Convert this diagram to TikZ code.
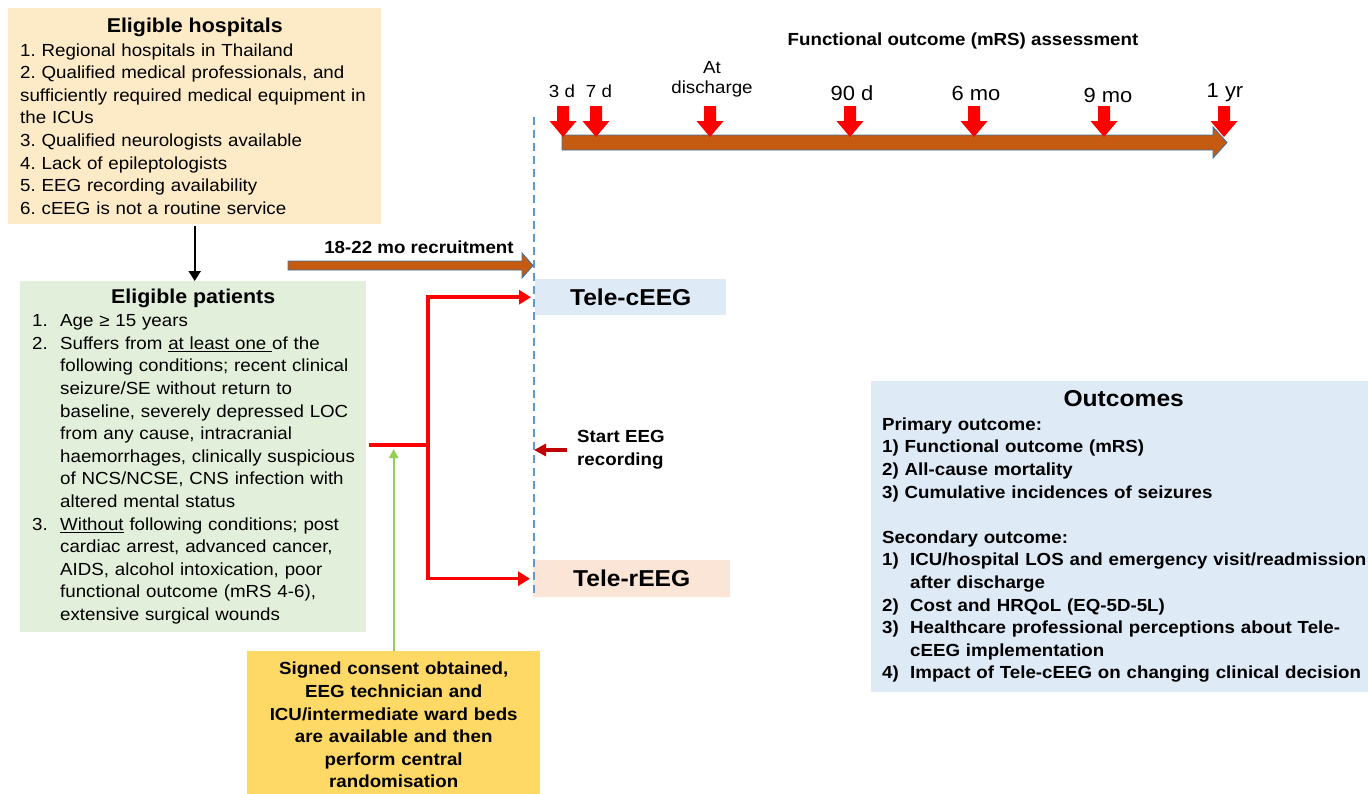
\documentclass[tikz,border=0pt]{standalone}
\usepackage{fontspec}
\setmainfont{Liberation Sans}[FakeStretch=1.07]
\usetikzlibrary{arrows.meta}

\definecolor{hospfill}{HTML}{FDEBC7}
\definecolor{patfill}{HTML}{E2EFDA}
\definecolor{consentfill}{HTML}{FFD966}
\definecolor{bluefill}{HTML}{DEEBF7}
\definecolor{peachfill}{HTML}{FBE5D6}
\definecolor{arrowbrown}{HTML}{C55A11}
\definecolor{arrowedge}{HTML}{41719C}
\definecolor{darkred}{HTML}{C00000}
\definecolor{lightgreen}{HTML}{92D050}
\definecolor{dashblue}{HTML}{5B9BD5}

\frenchspacing
\newcommand{\bodyfont}{\fontsize{17.5}{22.6}\selectfont}
\newcommand{\titlefont}{\fontsize{20}{24}\selectfont\bfseries}
\newcommand{\telefont}{\fontsize{23}{27}\selectfont\bfseries}
\newcommand{\itemno}[1]{\makebox[28pt][l]{#1}}
% keep the given line breaks, never wrap
\newcommand{\nowrap}{\rightskip=0pt plus 1fil minus 60pt\hyphenpenalty=10000\relax}

\begin{document}
\begin{tikzpicture}[x=1pt, y=-1pt,
box/.style={inner xsep=12pt, inner ysep=0pt, anchor=north west, align=left, font=\bodyfont},
telebox/.style={inner sep=0pt, anchor=north west, align=center, font=\telefont},
tlab/.style={inner sep=0pt, anchor=base, font=\fontsize{17.5}{21}\selectfont},
tbig/.style={inner sep=0pt, anchor=base, font=\fontsize{20.5}{24}\selectfont},
brownarrow/.style={fill=arrowbrown, draw=arrowedge, line width=0.9pt},
redline/.style={draw=red, line width=3.5pt, line join=miter, -{Triangle[length=12pt, width=14pt]}},
]

\useasboundingbox (0,0) rectangle (1368,793);

\pgfmathsetmacro{\ytop}{106}  % top of red markers
\pgfmathsetmacro{\yhead}{121}
\pgfmathsetmacro{\ytip}{137}

% MAIN BOXES
\node[box, fill=hospfill, minimum width=373, minimum height=216, text width=349] (hosp) at (8,8)
{\nowrap\makebox[\linewidth]{\titlefont Eligible hospitals}\\[1pt]
1. Regional hospitals in Thailand\\
2. Qualified medical professionals, and\\
sufficiently required medical equipment in\\
the ICUs\\
3. Qualified neurologists available\\
4. Lack of epileptologists\\
5. EEG recording availability\\
6. cEEG is not a routine service};

\node[box, fill=patfill, minimum width=346, minimum height=351, text width=322] (patients) at (20,281)
{\nowrap\makebox[\linewidth]{\titlefont Eligible patients}\\[0.5pt]
\itemno{1.}Age ≥ 15 years\\
\itemno{2.}Suffers from \underline{at least one }of the\\
\hspace*{28pt}following conditions; recent clinical\\
\hspace*{28pt}seizure/SE without return to\\
\hspace*{28pt}baseline, severely depressed LOC\\
\hspace*{28pt}from any cause, intracranial\\
\hspace*{28pt}haemorrhages, clinically suspicious\\
\hspace*{28pt}of NCS/NCSE, CNS infection with\\
\hspace*{28pt}altered mental status\\
\itemno{3.}\underline{Without} following conditions; post\\
\hspace*{28pt}cardiac arrest, advanced cancer,\\
\hspace*{28pt}AIDS, alcohol intoxication, poor\\
\hspace*{28pt}functional outcome (mRS 4-6),\\
\hspace*{28pt}extensive surgical wounds};

\node[box, fill=consentfill, align=center, font=\bodyfont\bfseries, minimum width=293, minimum height=148, text width=269] (consent) at (247,651)
{Signed consent obtained,\\
EEG technician and\\
ICU/intermediate ward beds\\
are available and then\\
perform central\\
randomisation};

\node[box, inner xsep=11pt, fill=bluefill, font=\bodyfont\bfseries, minimum width=497, minimum height=311, text width=475] (outcomes) at (871,381)
{\nowrap\makebox[\linewidth]{\hspace{8pt}\fontsize{23}{27}\selectfont Outcomes}\\[1pt]
Primary outcome:\\
1) Functional outcome (mRS)\\
2) All-cause mortality\\
3) Cumulative incidences of seizures\\[22.6pt]
Secondary outcome:\\
\itemno{1)}ICU/hospital LOS and emergency visit/readmission\\
\hspace*{28pt}after discharge\\
\itemno{2)}Cost and HRQoL (EQ-5D-5L)\\
\itemno{3)}Healthcare professional perceptions about Tele-\\
\hspace*{28pt}cEEG implementation\\
\mbox{\itemno{4)}Impact of Tele-cEEG on changing clinical decision}};

% ARMS
\node[telebox, fill=bluefill, minimum width=191, minimum height=36] (ceeg) at (535,279) {Tele-cEEG};
\node[telebox, fill=peachfill, minimum width=197, minimum height=37] (reeg) at (533,560) {Tele-rEEG};

% randomisation line
\coordinate (dtop) at (534,117);
\coordinate (dbot) at (534,598);
\draw[dashblue, line width=1.6pt, dash pattern=on 8pt off 5pt] (dtop) -- (dbot);

\node[inner sep=0pt, anchor=west, align=left, font=\bodyfont\bfseries] (start) at (577,450) {Start EEG\\recording};
\draw[darkred, line width=3.2pt, -{Triangle[length=12pt, width=12pt]}] ([xshift=-10pt]start.west) -- (start.west -| dtop);

% recruitment
\node[inner sep=0pt, anchor=base, font=\bodyfont\bfseries] (recruit) at (419,253) {18-22 mo recruitment};
\draw[brownarrow] (288,261) -- (522,261) -- (522,253) -- (533,265.5) -- (522,278) -- (522,270) -- (288,270) -- cycle;

% split to the arms
\coordinate (split) at (428,445);
\draw[red, line width=3.5pt] ([xshift=3pt]patients.east |- split) -- (split);
\draw[redline, shorten >=4pt] (split) |- (ceeg.west);
\draw[redline, shorten >=3pt] (split) |- (reeg.west);

\draw[lightgreen, line width=2pt, -{Triangle[length=9pt, width=9pt]}, shorten >=4pt] (consent.north) -- (consent.north |- split);
\draw[line width=2pt, -{Triangle[length=10pt, width=12pt]}, shorten <=2pt] (hosp.south) -- (hosp.south |- patients.north);

% FOLLOW-UP TIMELINE
\node[inner sep=0pt, anchor=base, font=\bodyfont\bfseries] (fotitle) at (963,45) {Functional outcome (mRS) assessment};
\draw[brownarrow] (562,135) -- (1213,135) -- (1213,127) -- (1227,142.5) -- (1213,158) -- (1213,150) -- (562,150) -- cycle;

\foreach \xa/\xl/\yl/\st/\lab [count=\i] in {563/562/97/tlab/3 d, 596/599/97/tlab/7 d, 850/852/100/tbig/90 d,
974/976/100/tbig/6 mo, 1104/1108/102/tbig/9 mo, 1224/1225/97/tbig/1 yr}{
    \node[\st] (t\i) at (\xl,\yl) {\lab};
    \fill[red] (\xa-6,\ytop) -- (\xa+6,\ytop) -- (\xa+6,\yhead) -- (\xa+13.5,\yhead) -- (\xa,\ytip)
    -- (\xa-13.5,\yhead) -- (\xa-6,\yhead) -- cycle;
}
\node[inner sep=0pt, anchor=south, align=center, font=\fontsize{17.5}{20}\selectfont] (tdis) at (712,97) {At\\discharge};
\fill[red] (710-6,\ytop) -- (710+6,\ytop) -- (710+6,\yhead) -- (710+13.5,\yhead) -- (710,\ytip)
-- (710-13.5,\yhead) -- (710-6,\yhead) -- cycle;

\end{tikzpicture}
\end{document}
